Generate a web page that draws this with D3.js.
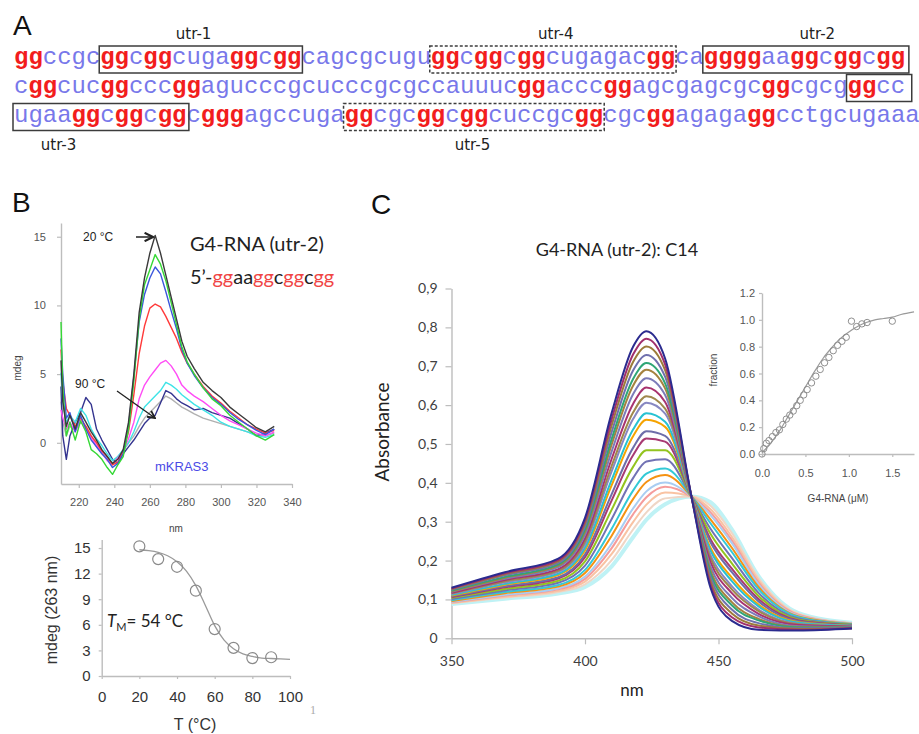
<!DOCTYPE html>
<html>
<head>
<meta charset="utf-8">
<script src="https://cdn.jsdelivr.net/npm/d3@7"></script>
<style>
body { margin: 0; background: #fff; }
svg { display: block; font-family: "Liberation Sans", Arial, sans-serif; }
</style>
</head>
<body>
<svg id="fig" width="919" height="734"></svg>
<script>
// ---------- panel A: sequence (upper case = G-tract, drawn red) ----------
const seqRows = [
    'GGccgcGGcGGcugaGGcGGcagcgcuguGGcGGcGGcugagacGGcaGGGGaaGGcGGcGG',
    'cGGcucGGcccGGagucccgcucccgcgccauuucGGacccGGagcgagcgcGGcgcgGGcc',
    'ugaaGGcGGcGGcGGGagccugaGGcgcGGcGGcuccgcGGcgcGGagagaGGcctgcugaaa'
];
// boxes in sequence positions: row, first char, end char
const utrBoxes = [
    {row: 0, from: 6, to: 20, dashed: false},
    {row: 0, from: 29, to: 46, dashed: true},
    {row: 0, from: 48, to: 62.2, dashed: false},
    {row: 1, from: 58, to: 62.4, dashed: false},
    {row: 2, from: 0, to: 12.1, dashed: false},
    {row: 2, from: 23, to: 41, dashed: true}
];
const utrLabels = [
    {name: 'utr-1', at: 12.5, above: true},
    {name: 'utr-4', at: 37.7, above: true},
    {name: 'utr-2', at: 55.9, above: true},
    {name: 'utr-3', at: 3.1, above: false},
    {name: 'utr-5', at: 31.9, above: false}
];

// ---------- panel B: CD spectra ----------
const cdNm = [210, 211, 213, 215, 218, 221, 224, 227, 230, 233, 236, 239, 242, 245, 248, 251, 254, 257,
              260, 263, 266, 269, 272, 275, 278, 281, 285, 290, 295, 300, 305, 310, 315, 320, 325, 330];
const cd20 = [6.0, 3.0, 1.2, 2.0, 1.0, 2.2, 1.5, 0.8, 0.2, -0.5, -1.0, -1.5, -1.2, -0.5, 1.5, 5.0, 9.5, 12.0,
              13.8, 15.1, 13.8, 12.2, 10.6, 9.0, 7.4, 6.3, 5.4, 4.4, 3.8, 3.3, 2.6, 2.1, 1.6, 1.1, 0.8, 1.2];
const cd30 = [8.8, 4.0, 0.5, 1.5, 0.2, 1.6, 0.8, -0.5, -0.8, -1.2, -1.8, -2.3, -1.6, -1.0, 1.0, 4.5, 9.0, 11.5,
              12.6, 13.7, 13.0, 11.8, 10.2, 8.6, 7.0, 5.9, 5.0, 4.0, 3.2, 2.7, 2.0, 1.5, 1.0, 0.5, 0.2, 0.6];
const cd40 = [7.6, 5.0, 1.8, 2.2, 0.8, 2.0, 1.0, 0.2, -0.3, -0.8, -1.2, -1.8, -1.5, -0.8, 1.2, 4.8, 8.8, 10.8,
              12.0, 12.8, 12.3, 11.0, 9.6, 8.3, 6.8, 5.8, 4.9, 4.0, 3.3, 2.8, 2.2, 1.7, 1.3, 0.9, 0.6, 1.0];
const cd50 = [6.8, 4.5, 2.5, 2.0, 1.2, 1.8, 1.2, 0.5, 0.0, -0.6, -1.0, -1.6, -1.4, -0.6, 0.8, 3.5, 6.5, 8.5,
              9.8, 10.1, 9.9, 9.2, 8.4, 7.6, 6.6, 5.8, 5.0, 4.1, 3.4, 2.9, 2.3, 1.8, 1.3, 1.0, 0.7, 0.9];
const cd60 = [2.4, 1.8, 1.0, 1.5, 0.8, 1.6, 1.0, 0.4, -0.2, -0.7, -1.3, -1.6, -1.1, -0.6, 0.3, 1.5, 3.2, 4.2,
              4.8, 5.3, 5.8, 6.0, 5.6, 5.0, 4.2, 3.8, 3.4, 3.0, 2.5, 2.0, 1.6, 1.3, 1.0, 0.7, 0.5, 0.8];
const cd70 = [5.1, 3.0, 1.5, 2.0, 1.5, 2.5, 2.0, 1.0, 0.3, -0.2, -0.8, -1.3, -1.0, -0.5, 0.0, 0.8, 1.8, 2.6,
              3.0, 3.4, 3.8, 4.4, 4.2, 3.9, 3.5, 3.2, 2.8, 2.4, 2.0, 1.5, 1.2, 1.0, 0.8, 0.5, 0.4, 0.6];
const cd80 = [3.0, 1.5, 0.5, 1.2, 1.0, 1.5, 1.2, 0.5, -0.3, -0.8, -1.2, -1.5, -1.0, -0.6, 0.0, 0.5, 1.2, 1.8,
              2.2, 2.6, 3.0, 3.4, 3.2, 2.9, 2.6, 2.4, 2.1, 1.8, 1.6, 1.4, 1.2, 1.0, 0.8, 0.6, 0.5, 0.7];
const cd90 = [4.1, 0.5, -1.2, 0.5, 1.5, 2.2, 3.3, 2.8, 1.0, 0.2, -0.5, -1.2, -1.5, -0.8, -0.3, 0.2, 0.8, 1.4,
              1.8, 2.0, 2.9, 3.8, 3.6, 3.2, 2.9, 2.7, 2.4, 2.5, 2.2, 2.0, 1.8, 1.4, 1.0, 0.5, 0.7, 1.0];
const cdTicksX = [220, 240, 260, 280, 300, 320, 340];
const cdTicksY = [0, 5, 10, 15];

// ---------- panel B: melting curve ----------
const meltT = [20, 30, 40, 50, 60, 70, 80, 90];
const meltMdeg = [15.2, 13.7, 12.8, 10.0, 5.5, 3.3, 2.1, 2.2];
const meltFitT = [20, 25, 30, 35, 40, 45, 50, 55, 60, 65, 70, 75, 80, 85, 90, 95, 100];
const meltFit = [14.8, 14.7, 14.5, 14.1, 13.4, 12.3, 10.6, 8.3, 5.9, 4.2, 3.2, 2.6, 2.3, 2.1, 2.05, 2.0, 1.95];
const meltTicksX = [0, 20, 40, 60, 80, 100];
const meltTicksY = [0, 3, 6, 9, 12, 15];

// ---------- panel C: absorbance titration ----------
const absNm = [350, 370, 390, 400, 410, 418, 423, 430, 440, 447, 455, 465, 480, 500];
const absSpectra = [
    [.130, .170, .205, .310, .580, .750, .790, .720, .360, .130, .045, .022, .020, .025],
    [.128, .167, .201, .303, .564, .730, .771, .705, .360, .139, .054, .028, .022, .026],
    [.127, .165, .198, .296, .548, .711, .751, .690, .360, .148, .064, .033, .024, .026],
    [.125, .162, .194, .288, .531, .689, .729, .673, .361, .158, .074, .039, .026, .027],
    [.123, .158, .190, .280, .513, .667, .708, .656, .361, .167, .085, .046, .028, .028],
    [.121, .156, .187, .274, .499, .650, .691, .643, .361, .175, .093, .050, .029, .028],
    [.120, .153, .183, .266, .481, .628, .669, .626, .361, .185, .104, .057, .031, .029],
    [.117, .150, .178, .257, .462, .603, .645, .608, .362, .196, .116, .063, .034, .030],
    [.116, .147, .174, .249, .444, .581, .623, .591, .362, .206, .126, .070, .036, .030],
    [.114, .144, .171, .242, .430, .564, .606, .578, .362, .214, .134, .074, .037, .031],
    [.112, .140, .166, .233, .408, .537, .579, .557, .362, .226, .147, .082, .040, .032],
    [.110, .138, .163, .226, .394, .520, .562, .544, .362, .233, .156, .087, .041, .032],
    [.108, .134, .157, .216, .371, .490, .533, .521, .363, .247, .170, .095, .044, .033],
    [.106, .131, .154, .209, .355, .471, .514, .506, .363, .255, .179, .101, .046, .034],
    [.104, .127, .148, .198, .331, .441, .484, .484, .363, .269, .193, .109, .048, .035],
    [.101, .123, .143, .187, .307, .412, .455, .461, .363, .282, .207, .117, .051, .035],
    [.098, .119, .137, .176, .282, .380, .424, .437, .364, .296, .222, .126, .054, .036],
    [.096, .116, .133, .168, .264, .358, .402, .420, .364, .306, .233, .132, .056, .037],
    [.094, .112, .129, .159, .244, .334, .378, .401, .364, .317, .245, .139, .058, .038],
    [.093, .110, .126, .153, .232, .319, .363, .390, .364, .324, .252, .143, .060, .038],
    [.091, .107, .122, .146, .217, .299, .344, .375, .365, .332, .261, .149, .061, .039],
    [.090, .105, .119, .139, .201, .280, .324, .360, .365, .341, .271, .155, .063, .039],
    [.088, .102, .115, .132, .185, .260, .305, .345, .365, .350, .280, .160, .065, .040]
];
const absColors = ['#2b2b8f', '#a02f6c', '#9c7b3a', '#7070ae', '#2fa676', '#a5823f', '#7b7bb9', '#a8336f',
                   '#a0884c', '#8888c2', '#27c2d2', '#f5a300', '#6e6eaa', '#a83a72', '#93c41f', '#7272b4',
                   '#33c9d6', '#f59212', '#a9cdf2', '#f59c9c', '#f9c3a3', '#efd6c6', '#bff2f5'];
const absTicksX = [350, 400, 450, 500];
const absTicksY = [0, 0.1, 0.2, 0.3, 0.4, 0.5, 0.6, 0.7, 0.8, 0.9];
const absTickLabels = ['0', '0,1', '0,2', '0,3', '0,4', '0,5', '0,6', '0,7', '0,8', '0,9'];

// inset: fraction bound vs G4-RNA
const insConc = [0, 0.02, 0.05, 0.08, 0.12, 0.16, 0.2, 0.24, 0.28, 0.32, 0.36, 0.4, 0.44, 0.48, 0.52,
                 0.57, 0.62, 0.67, 0.72, 0.77, 0.82, 0.87, 0.92, 0.97, 1.03, 1.09, 1.15, 1.21, 1.5];
const insFrac = [0, 0.04, 0.08, 0.1, 0.13, 0.16, 0.18, 0.22, 0.26, 0.29, 0.32, 0.36, 0.4, 0.44, 0.48,
                 0.53, 0.58, 0.63, 0.68, 0.72, 0.77, 0.81, 0.84, 0.87, 0.99, 0.95, 0.97, 0.98, 0.99];
const insFitConc = [0, 0.1, 0.2, 0.3, 0.4, 0.5, 0.6, 0.7, 0.8, 0.9, 1.0, 1.1, 1.2, 1.3, 1.4, 1.5, 1.6, 1.75];
const insFit = [0.01, 0.08, 0.17, 0.28, 0.39, 0.5, 0.61, 0.71, 0.79, 0.86, 0.91, 0.95, 0.98, 1.0, 1.01, 1.02, 1.04, 1.06];
const insTicksX = [0, 0.5, 1, 1.5];
const insTicksY = [0, 0.2, 0.4, 0.6, 0.8, 1.0, 1.2];

const svg = d3.select('#fig');
svg.append('rect').attr('width', 919).attr('height', 734).attr('fill', '#fff');

/** tidy up a d3 axis the way the figure draws them */
function styleAxis(g, fontSize, color, family) {
    g.attr('font-family', family).attr('font-size', fontSize);
    g.select('.domain').attr('stroke', '#bdbdbd').attr('stroke-width', 1.4);
    g.selectAll('.tick line').attr('stroke', '#bdbdbd').attr('stroke-width', 1.2);
    g.selectAll('.tick text').attr('fill', color);
}

// panel letters
[['A', 13, 35], ['B', 12, 212], ['C', 371, 214]].forEach(p => {
    svg.append('text').attr('x', p[1]).attr('y', p[2]).attr('font-size', 28).attr('fill', '#111').text(p[0]);
});

// ===== A =====
const charX = d3.scaleLinear().domain([0, 62]).range([14, 905]);
const rowY = d3.scaleOrdinal().domain([0, 1, 2]).range([64, 92.5, 121.5]);

seqRows.forEach((row, r) => {
    let txt = svg.append('text')
                 .attr('y', rowY(r))
                 .attr('font-family', '"Liberation Mono", monospace')
                 .attr('font-size', 24);
    let pos = 0;
    row.match(/[A-Z]+|[a-z]+/g).forEach(run => {
        let isG = run === run.toUpperCase();
        txt.append('tspan')
           .attr('x', charX(pos))
           .attr('fill', isG ? '#f21d1d' : '#7878ea')
           .attr('font-weight', isG ? 'bold' : 'normal')
           .text(run.toLowerCase());
        pos += run.length;
    });
});

svg.selectAll('rect.utr').data(utrBoxes).join('rect')
   .attr('class', 'utr')
   .attr('x', d => charX(d.from) - 1)
   .attr('width', d => charX(d.to) - charX(d.from) + 2)
   .attr('y', d => rowY(d.row) - 18)
   .attr('height', 27)
   .attr('fill', 'none')
   .attr('stroke', '#3c3c3c')
   .attr('stroke-width', 1.5)
   .attr('stroke-dasharray', d => d.dashed ? '3,2' : null);

svg.selectAll('text.utrlab').data(utrLabels).join('text')
   .attr('class', 'utrlab')
   .attr('x', d => charX(d.at))
   .attr('y', d => d.above ? 39 : 150)
   .attr('text-anchor', 'middle')
   .attr('font-family', '"DejaVu Sans", sans-serif')
   .attr('font-size', 15)
   .attr('fill', '#222')
   .text(d => d.name);

// ===== B top: CD spectra =====
const cdX = d3.scaleLinear().domain([210, 340]).range([61, 292]);
const cdY = d3.scaleLinear().domain([-3, 16]).range([484, 223]);

let gx = svg.append('g').attr('transform', 'translate(0,484)')
            .call(d3.axisBottom(cdX).tickValues(cdTicksX).tickSize(4).tickSizeOuter(0).tickPadding(10));
styleAxis(gx, 11, '#555', '"Liberation Sans", sans-serif');
let gy = svg.append('g').attr('transform', 'translate(61,0)')
            .call(d3.axisLeft(cdY).tickValues(cdTicksY).tickSize(4).tickSizeOuter(0).tickPadding(11));
styleAxis(gy, 11, '#555', '"Liberation Sans", sans-serif');

const cdSeries = [
    {v: cd80, c: '#b0b0b0'}, {v: cd90, c: '#34348f'}, {v: cd70, c: '#3fe3e6'},
    {v: cd60, c: '#ff4cf5'}, {v: cd50, c: '#ff3a3a'}, {v: cd40, c: '#3a56dc'},
    {v: cd30, c: '#35d835'}, {v: cd20, c: '#3a3a3a'}
];
const cdLine = d3.line().x((d, i) => cdX(cdNm[i])).y(d => cdY(d));
cdSeries.forEach(s => {
    svg.append('path').attr('d', cdLine(s.v)).attr('fill', 'none')
       .attr('stroke', s.c).attr('stroke-width', 1.4).attr('stroke-linejoin', 'round');
});

svg.append('text').attr('x', 176).attr('y', 532).attr('text-anchor', 'middle')
   .attr('font-size', 10).attr('fill', '#444').text('nm');
svg.append('text').attr('transform', 'translate(21,368) rotate(-90)').attr('text-anchor', 'middle')
   .attr('font-size', 10).attr('fill', '#444').text('mdeg');

// arrows for the temperature labels
svg.append('defs').append('marker')
   .attr('id', 'chev').attr('viewBox', '0 0 10 10').attr('refX', 9).attr('refY', 5)
   .attr('markerWidth', 7).attr('markerHeight', 7).attr('orient', 'auto')
   .append('path').attr('d', 'M1,1 L9,5 L1,9').attr('fill', 'none').attr('stroke', '#222').attr('stroke-width', 2);

svg.append('text').attr('x', 83).attr('y', 241).attr('font-size', 12).attr('fill', '#222').text('20 °C');
svg.append('line').attr('x1', 136).attr('y1', 237).attr('x2', 153).attr('y2', 237)
   .attr('stroke', '#222').attr('stroke-width', 1.5).attr('marker-end', 'url(#chev)');
svg.append('text').attr('x', 75).attr('y', 388).attr('font-size', 12).attr('fill', '#222').text('90 °C');
svg.append('line').attr('x1', 117).attr('y1', 391).attr('x2', 155).attr('y2', 418)
   .attr('stroke', '#222').attr('stroke-width', 1.3).attr('marker-end', 'url(#chev)');

svg.append('text').attr('x', 190).attr('y', 251).attr('font-family', 'Lato, sans-serif')
   .attr('font-size', 20).attr('fill', '#222').text('G4-RNA (utr-2)');
let seqTxt = svg.append('text').attr('x', 190).attr('y', 284).attr('font-family', 'Lato, sans-serif')
                .attr('font-size', 20);
[['5’-', '#222'], ['gg', '#f04545'], ['aa', '#222'], ['gg', '#f04545'], ['c', '#222'],
 ['gg', '#f04545'], ['c', '#222'], ['gg', '#f04545']].forEach(p => {
    seqTxt.append('tspan').attr('fill', p[1]).text(p[0]);
});
svg.append('text').attr('x', 155).attr('y', 471).attr('font-size', 13).attr('fill', '#4a4ae6')
   .text('mKRAS3');

// ===== B bottom: melting curve =====
const tmX = d3.scaleLinear().domain([0, 100]).range([101.7, 290]);
const tmY = d3.scaleLinear().domain([0, 16]).range([676, 539.5]);

gx = svg.append('g').attr('transform', 'translate(0,676)')
        .call(d3.axisBottom(tmX).tickValues(meltTicksX).tickSize(3).tickSizeOuter(0).tickPadding(12));
styleAxis(gx, 15, '#333', '"Liberation Sans", sans-serif');
gy = svg.append('g').attr('transform', 'translate(101.7,0)')
        .call(d3.axisLeft(tmY).tickValues(meltTicksY).tickSize(3).tickSizeOuter(0).tickPadding(8));
styleAxis(gy, 15, '#333', '"Liberation Sans", sans-serif');

svg.append('path')
   .attr('d', d3.line().curve(d3.curveMonotoneX).x((d, i) => tmX(meltFitT[i])).y(d => tmY(d))(meltFit))
   .attr('fill', 'none').attr('stroke', '#9a9a9a').attr('stroke-width', 1.3);
svg.selectAll('circle.melt').data(meltMdeg).join('circle')
   .attr('class', 'melt')
   .attr('cx', (d, i) => tmX(meltT[i])).attr('cy', d => tmY(d)).attr('r', 5.5)
   .attr('fill', 'none').attr('stroke', '#8a8a8a').attr('stroke-width', 1.2);

svg.append('text').attr('transform', 'translate(57,610) rotate(-90)').attr('text-anchor', 'middle')
   .attr('font-size', 16).attr('fill', '#333').text('mdeg (263 nm)');
svg.append('text').attr('x', 195).attr('y', 730).attr('text-anchor', 'middle')
   .attr('font-size', 16).attr('fill', '#333').text('T (°C)');
let tmTxt = svg.append('text').attr('x', 107).attr('y', 627).attr('font-family', 'Lato, sans-serif')
               .attr('font-size', 17).attr('fill', '#222');
tmTxt.append('tspan').attr('font-style', 'italic').text('T');
tmTxt.append('tspan').attr('font-size', 11).attr('dy', 4).text('M');
tmTxt.append('tspan').attr('dy', -4).text('= 54 °C');
svg.append('text').attr('x', 310).attr('y', 714).attr('font-family', '"Liberation Serif", serif')
   .attr('font-size', 12).attr('fill', '#aaa').text('1');

// ===== C: absorbance titration =====
const absX = d3.scaleLinear().domain([350, 500]).range([451.5, 852]);
const absY = d3.scaleLinear().domain([0, 0.9]).range([638.3, 288.5]);

gx = svg.append('g').attr('transform', 'translate(0,638.3)')
        .call(d3.axisBottom(absX).tickValues(absTicksX).tickSize(6).tickSizeOuter(0).tickPadding(12));
styleAxis(gx, 14, '#404040', 'Lato, sans-serif');
gy = svg.append('g').attr('transform', 'translate(451.5,0)')
        .call(d3.axisLeft(absY).tickValues(absTicksY).tickSize(6).tickSizeOuter(0).tickPadding(8)
                .tickFormat((d, i) => absTickLabels[i]));
styleAxis(gy, 14, '#404040', 'Lato, sans-serif');

const absLine = d3.line().curve(d3.curveMonotoneX).x((d, i) => absX(absNm[i])).y(d => absY(d));
// last spectrum (fully bound) underneath, free dye on top
for (let k = absSpectra.length - 1; k >= 0; k--) {
    svg.append('path').attr('d', absLine(absSpectra[k])).attr('fill', 'none')
       .attr('stroke', absColors[k])
       .attr('stroke-width', k === absSpectra.length - 1 ? 4 : 2);
}

svg.append('text').attr('x', 617).attr('y', 256).attr('text-anchor', 'middle')
   .attr('font-family', 'Lato, sans-serif').attr('font-size', 18).attr('fill', '#222')
   .text('G4-RNA (utr-2): C14');
svg.append('text').attr('transform', 'translate(389,432) rotate(-90)').attr('text-anchor', 'middle')
   .attr('font-family', 'Lato, sans-serif').attr('font-size', 19).attr('fill', '#222').text('Absorbance');
svg.append('text').attr('x', 632).attr('y', 696).attr('text-anchor', 'middle')
   .attr('font-family', 'Lato, sans-serif').attr('font-size', 17).attr('fill', '#222').text('nm');

// inset
const insX = d3.scaleLinear().domain([0, 1.75]).range([762, 914]);
const insY = d3.scaleLinear().domain([0, 1.2]).range([454, 293]);

gx = svg.append('g').attr('transform', 'translate(0,454)')
        .call(d3.axisBottom(insX).tickValues(insTicksX).tickSize(3).tickSizeOuter(0).tickPadding(12)
                .tickFormat(d3.format('.1f')));
styleAxis(gx, 11, '#555', '"Liberation Sans", sans-serif');
gy = svg.append('g').attr('transform', 'translate(762,0)')
        .call(d3.axisLeft(insY).tickValues(insTicksY).tickSize(3).tickSizeOuter(0).tickPadding(4)
                .tickFormat(d3.format('.1f')));
styleAxis(gy, 11, '#555', '"Liberation Sans", sans-serif');

svg.append('path')
   .attr('d', d3.line().curve(d3.curveMonotoneX).x((d, i) => insX(insFitConc[i])).y(d => insY(d))(insFit))
   .attr('fill', 'none').attr('stroke', '#9a9a9a').attr('stroke-width', 1.2);
svg.selectAll('circle.ins').data(insFrac).join('circle')
   .attr('class', 'ins')
   .attr('cx', (d, i) => insX(insConc[i])).attr('cy', d => insY(d)).attr('r', 3.2)
   .attr('fill', 'none').attr('stroke', '#8f8f8f').attr('stroke-width', 1);

svg.append('text').attr('transform', 'translate(717,370) rotate(-90)').attr('text-anchor', 'middle')
   .attr('font-size', 10).attr('fill', '#444').text('fraction');
svg.append('text').attr('x', 838).attr('y', 502).attr('text-anchor', 'middle')
   .attr('font-size', 10).attr('fill', '#444').text('G4-RNA (μM)');
</script>
</body>
</html>
